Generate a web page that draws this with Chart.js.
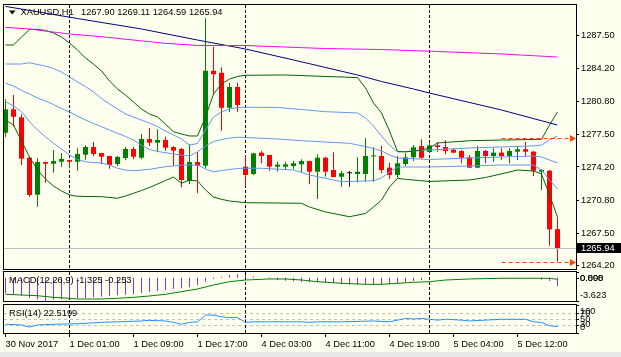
<!DOCTYPE html>
<html>
<head>
<meta charset="utf-8">
<script src="https://cdn.jsdelivr.net/npm/chart.js@4.4.1/dist/chart.umd.min.js"></script>
<style>
  html, body { margin:0; padding:0; background:#fffff0; }
  #wrap { position:relative; width:621px; height:357px; overflow:hidden; background:#fffff0; }
  #wrap canvas { position:absolute; left:0; }
  #strip { position:absolute; left:0; top:352px; width:621px; height:5px; background:#e8e8e8; }
</style>
</head>
<body>
<div id="wrap">
  <canvas id="cMain" width="621" height="271" style="top:0px"></canvas>
  <canvas id="cMacd" width="621" height="33" style="top:270px"></canvas>
  <canvas id="cRsi" width="621" height="54" style="top:303px"></canvas>
  <div id="strip"></div>
</div>
<script>
// ---------------- DATA ----------------
const symbolName = 'XAUUSD,H1';
const tickLabels = ['30 Nov 2017','1 Dec 01:00','1 Dec 09:00','1 Dec 17:00','4 Dec 03:00','4 Dec 11:00','4 Dec 19:00','5 Dec 04:00','5 Dec 12:00'];
const tickBars = [0, 8, 16, 24, 32, 40, 48, 56, 64];
const daySeparatorBars = [8, 30, 53];
const priceTicks = [1287.50, 1284.20, 1280.80, 1277.50, 1274.20, 1270.80, 1267.50, 1264.20];
const levelLines = [1277.15, 1264.59];
const levelLineStartBar = 62;

const candleOpen = [
 1277.67,1280.04,1279.23,1275.14,1271.39,1274.70,1274.53,1274.73,1274.90,1274.73,
 1275.44,1276.22,1275.61,1275.31,1274.50,1275.11,1276.02,1275.14,1277.03,1276.66,
 1276.93,1276.22,1276.02,1272.78,1274.70,1274.33,1283.95,1283.75,1280.20,1282.30,
 1274.23,1273.49,1275.65,1275.41,1274.23,1274.23,1274.30,1274.47,1274.80,1273.72,
 1275.14,1273.89,1273.21,1273.56,1273.49,1273.49,1275.27,1275.31,1274.13,1273.39,
 1274.50,1275.18,1276.32,1275.72,1276.39,1276.22,1275.95,1275.82,1275.18,1274.13,
 1275.82,1275.31,1275.65,1275.31,1275.75,1275.99,1275.75,1273.72,1273.82,1267.90];
const candleHigh = [
 1281.07,1281.49,1279.54,1275.24,1275.08,1274.73,1275.92,1275.61,1274.92,1276.09,
 1276.39,1276.73,1275.63,1275.33,1275.31,1276.22,1276.22,1277.54,1278.15,1278.02,
 1277.27,1276.32,1276.15,1276.50,1275.75,1289.26,1286.38,1284.30,1282.70,1282.74,
 1275.41,1275.65,1275.85,1275.43,1274.73,1274.73,1274.84,1274.98,1274.84,1275.48,
 1275.24,1275.68,1273.79,1273.79,1275.18,1277.10,1276.19,1276.36,1274.63,1275.31,
 1275.58,1276.42,1277.00,1276.60,1276.73,1276.93,1276.05,1275.92,1275.41,1276.32,
 1275.92,1276.15,1276.09,1276.09,1276.32,1276.73,1275.82,1273.96,1273.89,1269.11];
const candleLow = [
 1277.24,1278.28,1274.40,1271.19,1270.17,1272.61,1273.62,1274.23,1274.06,1273.82,
 1274.94,1275.28,1274.50,1274.02,1274.30,1274.87,1274.98,1274.98,1276.32,1275.75,
 1275.85,1274.33,1272.14,1272.47,1271.53,1274.06,1281.49,1277.87,1279.74,1279.80,
 1272.20,1273.39,1274.57,1273.82,1273.72,1273.89,1273.96,1273.62,1272.44,1270.95,
 1273.21,1273.15,1272.20,1272.20,1272.65,1272.71,1272.71,1273.56,1272.98,1273.11,
 1274.30,1274.80,1275.01,1275.58,1275.75,1275.48,1275.58,1274.57,1274.07,1274.07,
 1274.57,1274.73,1274.90,1274.57,1274.90,1275.24,1273.28,1271.87,1266.22,1264.59];
const candleClose = [
 1280.04,1279.29,1275.04,1271.36,1274.70,1274.53,1274.80,1275.01,1274.73,1275.51,
 1276.22,1275.51,1275.24,1274.40,1275.21,1276.02,1275.24,1277.03,1276.66,1276.93,
 1276.15,1275.85,1272.88,1274.70,1274.33,1283.95,1283.59,1280.20,1282.30,1280.48,
 1273.39,1275.58,1275.31,1274.23,1274.43,1274.47,1274.57,1274.80,1273.72,1275.14,
 1273.72,1273.18,1273.56,1273.56,1273.72,1275.31,1275.37,1273.89,1273.39,1274.57,
 1275.18,1276.19,1275.14,1276.39,1276.22,1275.82,1275.65,1275.14,1274.13,1275.82,
 1275.31,1275.65,1275.31,1275.82,1275.99,1275.75,1273.82,1273.89,1267.88,1265.94];

const n = null;
const maLong = [
 1288.35,n,n,1288.18,n,n,1287.87,n,1287.67,n,
 n,n,1287.40,n,n,n,1287.06,n,n,n,
 1286.73,n,n,n,1286.51,n,n,n,n,n,
 1286.51,n,n,1286.41,n,n,n,n,n,n,
 1286.20,n,n,n,n,n,n,1286.10,n,n,
 n,n,n,n,1285.90,n,n,n,n,n,
 n,n,1285.65,n,n,n,n,n,n,1285.34];
const maMid = [
 1290.47,n,n,n,n,n,n,n,n,1289.24,
 n,n,n,n,n,n,n,1288.18,n,n,
 n,n,n,n,1287.06,n,n,n,n,n,
 1286.15,n,n,n,n,n,1285.04,n,n,n,
 n,n,n,n,1283.52,n,n,1282.86,n,n,
 n,1282.10,n,1281.69,n,n,n,n,n,n,
 n,n,1279.97,n,n,n,n,n,n,1278.45];
const bbOuterUpper = [
 1286.56,1286.56,1287.37,1288.13,1288.15,1288.03,1287.77,1287.37,1286.76,1286.05,
 1285.24,1284.63,1283.92,1282.91,1282.10,1281.49,1280.78,1280.07,1279.57,1279.26,
 1278.55,1277.77,1277.54,1277.34,1277.34,1279.26,1281.59,1282.61,1283.11,1283.37,
 1283.49,n,n,n,n,1283.52,n,n,n,n,
 1283.37,n,n,n,1283.26,1282.20,1280.68,1279.67,1277.84,1275.77,
 1275.72,1275.82,1275.92,1276.12,1276.63,n,n,n,1276.86,n,
 n,n,1276.93,n,n,n,n,1277.00,1278.45,1279.77];
const bbInnerUpper = [
 1284.63,n,1284.63,1284.76,1284.58,1284.43,1284.18,1283.82,1283.32,1282.81,
 1282.35,1281.80,1281.14,1280.58,1280.07,1279.57,1279.26,1278.95,1278.65,1278.30,
 1277.84,1277.44,1277.03,1276.42,1276.58,1277.95,1279.26,1279.77,1280.07,1280.23,
 1280.25,n,n,n,1280.23,n,n,1280.02,n,n,
 1279.80,n,n,n,1279.67,1279.16,1278.35,1277.34,1276.42,1275.72,
 n,n,n,1275.92,n,n,n,n,1276.12,n,
 n,n,1276.23,n,n,n,1276.33,1276.42,1276.93,1277.34];
const bbInnerMid = [
 1282.68,1282.40,1281.95,1281.59,1281.19,1280.88,1280.53,1280.12,1279.77,1279.36,
 1278.96,1278.60,1278.28,1277.95,1277.61,1277.29,1276.93,1276.40,1275.97,1275.77,
 1275.65,1275.51,1275.41,1275.31,1275.72,1276.32,1276.78,1276.98,1277.13,1277.21,
 1277.19,n,n,n,1277.03,n,n,1276.86,n,n,
 1276.73,n,n,1276.60,1276.43,1276.27,1276.07,1275.82,1275.41,1275.11,
 n,n,n,1274.96,n,n,n,n,1275.11,n,
 n,n,1275.21,n,n,n,1275.31,1275.21,1274.91,1274.60];
const bbInnerLower = [
 1280.81,1280.38,1279.80,1278.79,1277.95,1277.27,1276.60,1276.02,1275.41,1274.96,
 1274.73,1274.65,1274.60,1274.40,1274.07,1273.89,1273.82,1273.89,1273.96,1274.10,
 1274.23,1274.30,1274.40,1274.40,1274.40,1273.99,1273.72,1273.84,1273.94,1274.05,
 1274.07,n,1274.07,n,n,n,1273.89,n,1273.39,n,
 n,n,1272.71,n,n,n,1272.81,1273.08,1273.69,1274.20,
 n,n,n,1274.20,n,n,n,n,1274.30,n,
 n,n,1274.40,n,n,n,1274.40,1273.89,1272.88,1271.97];
const bbOuterLower = [
 1278.96,1278.45,1276.83,1275.21,1273.89,1272.98,1272.27,1271.77,1271.36,1271.23,
 n,n,1271.19,n,1271.03,1271.26,1271.53,1271.82,1272.12,1272.47,
 1272.83,1273.18,1272.55,1272.88,1272.78,1271.87,1271.16,1270.92,1270.75,n,
 1270.58,n,n,n,n,n,n,1270.52,1270.14,n,
 1269.64,n,n,1269.16,n,1269.49,1270.14,1270.85,1272.17,1273.05,
 1272.95,n,n,1272.73,n,n,n,n,1272.88,n,
 1273.13,n,n,1273.69,1273.89,n,1273.79,1273.49,1271.36,1269.13];

const macdMain = [
 -2.42,-2.58,-2.80,-3.11,-3.36,-3.62,-3.42,-3.31,-3.20,-3.20,
 -3.16,-3.05,-2.95,-2.84,-2.73,-2.64,-2.53,-2.38,-2.22,-2.07,
 -1.91,-1.75,-1.64,-1.49,-1.13,-0.61,-0.19,0.17,0.43,0.54,
 0.43,0.20,0.00,-0.20,-0.35,-0.45,-0.55,-0.61,-0.70,-0.70,
 -0.80,-0.80,-1.00,-1.05,-1.05,-1.00,-1.00,-1.00,-1.00,-0.90,
 -0.70,-0.50,-0.35,-0.20,0.05,0.05,0.05,0.05,0.05,0.05,
 0.05,0.05,0.05,0.05,0.05,0.00,-0.10,-0.30,-0.51,-1.325];
const macdSignal = [
 -2.58,n,-2.69,n,-2.80,n,-3.05,n,-3.20,-3.31,
 n,n,-3.31,n,-3.20,n,-3.05,n,-2.84,n,
 -2.58,n,-2.17,n,-1.75,n,-1.13,n,-0.61,n,
 -0.35,n,n,-0.19,n,-0.19,n,-0.35,n,-0.61,
 n,n,-0.86,n,n,-1.02,n,-1.02,n,-0.86,
 n,-0.71,n,-0.61,n,-0.35,n,n,-0.19,n,
 n,n,-0.08,n,n,n,n,n,-0.08,-0.253];
const macdAxisLevels = [0.898, 0.000, -3.623];

const rsiValues = [
 31,30,28.6,21.4,28.6,30,31,n,n,33,
 n,n,38,n,40,n,n,43,45,n,
 43,38,31,38,40,64,64,58,55,55,
 38,40,n,n,n,40,n,40,38,40,
 n,n,40,n,n,n,43,n,40,n,
 52,50,52,n,46,49,n,46,43,n,
 46,n,49,n,n,49,40,38,26,22.5199];
const rsiLevels = [70, 50, 30];
const rsiAxisLevels = [100, 70, 50, 30, 0];

// ---------------- LAYOUT / STYLE ----------------
const FONT_FAMILY = 'Liberation Sans';
const FONT_PX = 9.3;
const FONT_CSS = FONT_PX + 'px "' + FONT_FAMILY + '"';
const X_MIN = -0.3125, X_MAX = 71.3125;
const PRICE_MIN = 1263.761, PRICE_MAX = 1290.712;
const UP = '#008000', DOWN = '#ff0000', DOJI = '#000000';

const bars = candleOpen.map((_, i) => i);
const candleColor = bars.map(i => candleClose[i] > candleOpen[i] ? UP : (candleClose[i] < candleOpen[i] ? DOWN : DOJI));
const toPoints = arr => arr.map((v, i) => v == null ? null : { x: i, y: v }).filter(p => p);
const lineDs = (arr, color) => ({ type: 'line', data: toPoints(arr), borderColor: color, borderWidth: 1,
  pointRadius: 0, tension: 0, fill: false, order: 0 });
const xScale = extra => Object.assign({ type: 'linear', min: X_MIN, max: X_MAX, bounds: 'data', offset: false,
  display: false, grid: { offset: false } }, extra || {});
const baseOpts = { responsive: false, animation: false, events: [], devicePixelRatio: 1,
  plugins: { legend: { display: false }, tooltip: { enabled: false } } };

function strokeFrame(ctx, y0, y1) {
  ctx.save(); ctx.strokeStyle = '#000'; ctx.lineWidth = 1; ctx.setLineDash([]);
  ctx.strokeRect(3.5, y0, 573, y1 - y0); ctx.restore();
}
function drawSeparators(chart, y0, y1) {
  const { ctx, scales: { x } } = chart;
  ctx.save(); ctx.strokeStyle = '#000'; ctx.lineWidth = 1; ctx.setLineDash([3, 2]);
  daySeparatorBars.forEach(b => { const px = x.getPixelForValue(b);
    ctx.beginPath(); ctx.moveTo(px, y0); ctx.lineTo(px, y1); ctx.stroke(); });
  ctx.restore();
}
function sideLabels(ctx, scale, values, fmt, top, bottom) {
  ctx.save(); ctx.font = FONT_CSS; ctx.fillStyle = '#000'; ctx.strokeStyle = '#000';
  ctx.textBaseline = 'middle'; ctx.textAlign = 'left'; ctx.lineWidth = 1;
  values.forEach(v => {
    const py = scale.getPixelForValue(v);
    const ry = Math.round(py) + 0.5;
    ctx.beginPath(); ctx.moveTo(577, ry); ctx.lineTo(579, ry); ctx.stroke();
    const ly = Math.min(Math.max(py, top + 6), bottom - 5.3);
    ctx.fillText(fmt(v), 580, ly);
  });
  ctx.restore();
}

// ---------------- MAIN PRICE CHART ----------------
const mainDecor = {
  id: 'mainDecor',
  beforeDatasetsDraw(chart) { drawSeparators(chart, 5, 269); },
  afterDatasetsDraw(chart) {
    const { ctx, scales: { x, y } } = chart;
    const last = candleClose[candleClose.length - 1];
    ctx.save();
    const by = Math.round(y.getPixelForValue(last)) + 0.5;
    ctx.strokeStyle = '#c0c0c0'; ctx.lineWidth = 1;
    ctx.beginPath(); ctx.moveTo(4, by); ctx.lineTo(576, by); ctx.stroke();
    ctx.strokeStyle = '#ff4500'; ctx.fillStyle = '#ff4500';
    levelLines.forEach(v => {
      const ly = Math.round(y.getPixelForValue(v)) + 0.5;
      const x0 = x.getPixelForValue(levelLineStartBar);
      ctx.setLineDash([4, 3]);
      ctx.beginPath(); ctx.moveTo(x0, ly); ctx.lineTo(570, ly); ctx.stroke();
      ctx.setLineDash([]);
      ctx.beginPath(); ctx.moveTo(570, ly - 3.5); ctx.lineTo(576, ly); ctx.lineTo(570, ly + 3.5); ctx.closePath(); ctx.fill();
    });
    ctx.restore();
  },
  afterDraw(chart) {
    const { ctx, scales: { y } } = chart;
    strokeFrame(ctx, 4.5, 269.5);
    const li = candleClose.length - 1;
    const last = candleClose[li];
    const by = y.getPixelForValue(last);
    ctx.save();
    ctx.fillStyle = '#000'; ctx.fillRect(576, Math.round(by) - 5, 45, 10);
    ctx.font = FONT_CSS; ctx.textBaseline = 'middle'; ctx.textAlign = 'left';
    ctx.fillStyle = '#fff'; ctx.fillText(last.toFixed(2), 581, by);
    ctx.fillStyle = '#000';
    ctx.beginPath(); ctx.moveTo(9, 10.5); ctx.lineTo(15.5, 10.5); ctx.lineTo(12.25, 14.5); ctx.closePath(); ctx.fill();
    ctx.fillText(symbolName, 20.5, 12.5);
    ctx.fillText([candleOpen[li], candleHigh[li], candleLow[li], candleClose[li]].map(v => v.toFixed(2)).join(' '), 81, 12.5);
    ctx.restore();
  }
};

new Chart(document.getElementById('cMain'), {
  type: 'bar',
  data: { datasets: [
    lineDs(maLong, '#ff00ff'),
    lineDs(maMid, '#000080'),
    lineDs(bbOuterUpper, '#006400'),
    lineDs(bbOuterLower, '#006400'),
    lineDs(bbInnerUpper, '#6495ed'),
    lineDs(bbInnerMid, '#6495ed'),
    lineDs(bbInnerLower, '#6495ed'),
    { type: 'bar', data: bars.map(i => ({ x: i, y: [candleLow[i], candleHigh[i]] })), backgroundColor: candleColor,
      barThickness: 1, grouped: false, inflateAmount: 0, borderWidth: 0, order: 2 },
    { type: 'bar', data: bars.map(i => ({ x: i, y: [candleOpen[i], candleClose[i]] })), backgroundColor: candleColor,
      barThickness: 5, minBarLength: 1, grouped: false, inflateAmount: 0, borderWidth: 0, order: 1 }
  ] },
  options: Object.assign({}, baseOpts, {
    layout: { padding: { left: 3, top: 4, right: 0, bottom: 1 } },
    scales: {
      x: xScale(),
      y: { type: 'linear', position: 'right', min: PRICE_MIN, max: PRICE_MAX, bounds: 'data', beginAtZero: false,
        afterBuildTicks: s => { s.ticks = priceTicks.map(v => ({ value: v })); },
        afterFit: s => { s.width = 45; s.paddingTop = 0; s.paddingBottom = 0; },
        ticks: { callback: v => Number(v).toFixed(2), font: { family: FONT_FAMILY, size: FONT_PX }, color: '#000',
          padding: 2, autoSkip: false },
        grid: { drawOnChartArea: false, drawTicks: true, tickLength: 3, tickColor: '#000' },
        border: { display: false } }
    }
  }),
  plugins: [mainDecor]
});

// ---------------- MACD ----------------
const macdDecor = {
  id: 'macdDecor',
  beforeDatasetsDraw(chart) { drawSeparators(chart, 2, 31); },
  afterDraw(chart) {
    const { ctx, scales: { y } } = chart;
    strokeFrame(ctx, 1.5, 31.5);
    const li = macdMain.length - 1;
    ctx.save(); ctx.font = FONT_CSS; ctx.fillStyle = '#000'; ctx.textBaseline = 'middle'; ctx.textAlign = 'left';
    ctx.fillText('MACD(12,26,9) ' + macdMain[li].toFixed(3) + ' ' + macdSignal[li].toFixed(3), 9, 10);
    ctx.restore();
    sideLabels(ctx, y, macdAxisLevels, v => v.toFixed(3), 2, 31);
  }
};
new Chart(document.getElementById('cMacd'), {
  type: 'bar',
  data: { datasets: [
    lineDs(macdSignal, '#008000'),
    { type: 'bar', data: bars.map(i => ({ x: i, y: macdMain[i] })), backgroundColor: '#9932cc',
      barThickness: 1, grouped: false, inflateAmount: 0, borderWidth: 0, order: 1 }
  ] },
  options: Object.assign({}, baseOpts, {
    layout: { padding: { left: 3, top: 2, right: 45, bottom: 2 } },
    scales: {
      x: xScale(),
      y: { type: 'linear', min: macdAxisLevels[2], max: macdAxisLevels[0], bounds: 'data', display: false }
    }
  }),
  plugins: [macdDecor]
});

// ---------------- RSI ----------------
const rsiDecor = {
  id: 'rsiDecor',
  beforeDatasetsDraw(chart) {
    const { ctx, scales: { y } } = chart;
    ctx.save(); ctx.strokeStyle = '#c0c0c0'; ctx.lineWidth = 1; ctx.setLineDash([3, 3]);
    rsiLevels.forEach(v => { const ly = Math.round(y.getPixelForValue(v)) + 0.5;
      ctx.beginPath(); ctx.moveTo(4, ly); ctx.lineTo(576, ly); ctx.stroke(); });
    ctx.restore();
    drawSeparators(chart, 2, 30);
  },
  afterDraw(chart) {
    const { ctx, scales: { y } } = chart;
    strokeFrame(ctx, 1.5, 30.5);
    const li = rsiValues.length - 1;
    ctx.save(); ctx.font = FONT_CSS; ctx.fillStyle = '#000'; ctx.textBaseline = 'middle'; ctx.textAlign = 'left';
    ctx.fillText('RSI(14) ' + rsiValues[li].toFixed(4), 9, 10.3);
    ctx.restore();
    sideLabels(ctx, y, rsiAxisLevels, v => String(v), 2, 30);
  }
};
new Chart(document.getElementById('cRsi'), {
  type: 'line',
  data: { datasets: [ lineDs(rsiValues, '#1e90ff') ] },
  options: Object.assign({}, baseOpts, {
    layout: { padding: { left: 3, top: 2, right: 45, bottom: 0 } },
    scales: {
      x: xScale({ display: true, position: 'bottom',
        afterBuildTicks: s => { s.ticks = tickBars.map(v => ({ value: v })); },
        afterFit: s => { s.height = 24; s.paddingLeft = 0; s.paddingRight = 0; },
        ticks: { callback: (v, i) => tickLabels[i], align: 'start', autoSkip: false, maxRotation: 0, minRotation: 0,
          padding: 2, color: '#000', font: { family: FONT_FAMILY, size: FONT_PX } },
        grid: { drawOnChartArea: false, drawTicks: true, tickLength: 4, tickColor: '#000', offset: false },
        border: { display: false } }),
      y: { type: 'linear', min: 0, max: 100, bounds: 'data', display: false }
    }
  }),
  plugins: [rsiDecor]
});
</script>
</body>
</html>
